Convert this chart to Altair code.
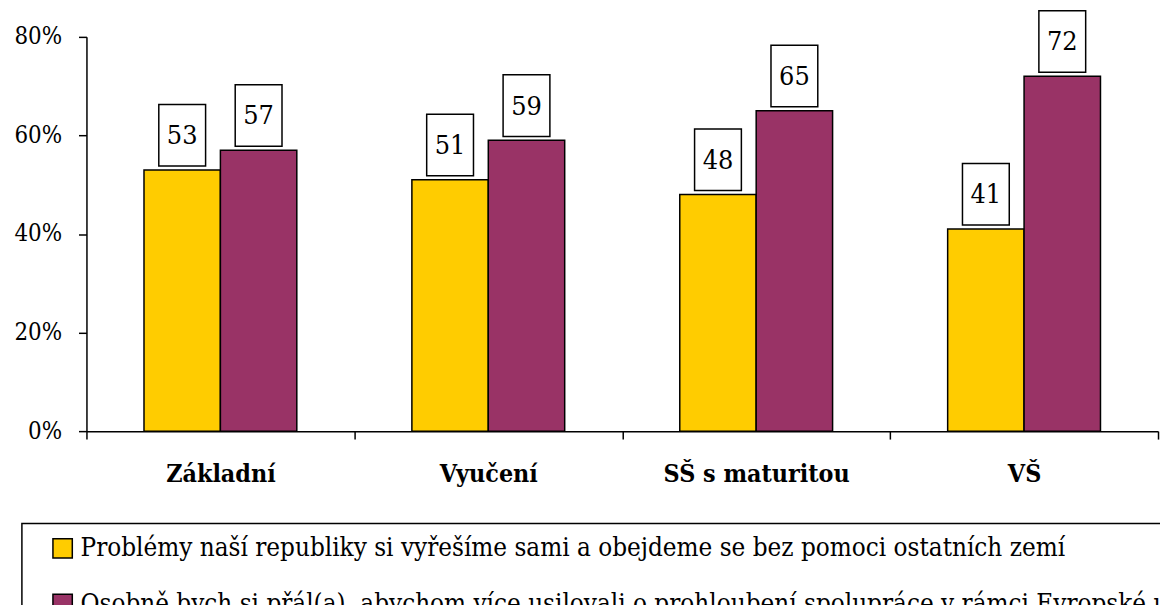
import altair as alt
import pandas as pd

categories = ["Základní", "Vyučení", "SŠ s maturitou", "VŠ"]
series = [
    "Problémy naší republiky si vyřešíme sami a obejdeme se bez pomoci ostatních zemí",
    "Osobně bych si přál(a), abychom více usilovali o prohloubení spolupráce v rámci Evropské unie",
]
values_sami = [53, 51, 48, 41]
values_eu = [57, 59, 65, 72]
colors = ["#FFCC00", "#993366"]
y_ticks = [0, 20, 40, 60, 80]

rows = []
for c, a, b in zip(categories, values_sami, values_eu):
    rows.append({"kat": c, "serie": series[0], "hodnota": a})
    rows.append({"kat": c, "serie": series[1], "hodnota": b})
df = pd.DataFrame(rows)

FONT = "'DejaVu Serif Condensed', 'DejaVu Serif'"

x = alt.X(
    "kat:N", sort=categories,
    scale=alt.Scale(paddingInner=0, paddingOuter=0),
    axis=alt.Axis(title=None, tickBand="extent", labelAngle=0, labelFont=FONT,
                  labelFontSize=25, labelFontWeight="bold", labelColor="black",
                  labelLimit=400, labelPadding=23, tickSize=8, tickColor="black",
                  tickWidth=1.5, domainColor="black", domainWidth=1.5, grid=False),
)
xo = alt.XOffset("serie:N", sort=series, scale=alt.Scale(paddingInner=0, paddingOuter=0.753))
y = alt.Y(
    "hodnota:Q",
    scale=alt.Scale(domain=[0, 80], nice=False),
    axis=alt.Axis(title=None, values=y_ticks, labelExpr="datum.value + '%'", labelFont=FONT,
                  labelFontSize=24, labelColor="black", labelPadding=17, tickSize=8,
                  tickColor="black", tickWidth=1.5, domainColor="black", domainWidth=1.5,
                  grid=False),
)
color = alt.Color(
    "serie:N", sort=series,
    scale=alt.Scale(domain=series, range=colors),
    legend=alt.Legend(title=None, orient="none", legendX=-65, legendY=490, direction="vertical",
                      strokeColor="black", fillColor="white", padding=12,
                      symbolType="square", symbolSize=380, symbolStrokeColor="black",
                      symbolStrokeWidth=1.5, symbolOpacity=1, symbolOffset=16,
                      labelFont=FONT, labelFontSize=26, labelColor="black", labelOffset=5,
                      labelLimit=3000, rowPadding=30),
)

base = alt.Chart(df).encode(x=x, xOffset=xo)
bars = base.mark_bar(stroke="black", strokeWidth=1.5, opacity=1).encode(y=y, color=color)
boxes = base.mark_point(
    shape="M-0.76,-1L0.76,-1L0.76,1L-0.76,1Z", size=3844, filled=True, fill="white",
    stroke="black", strokeWidth=1.5, opacity=1, yOffset=-35,
).encode(y="hodnota:Q")
labels = base.mark_text(font=FONT, fontSize=27, baseline="middle", yOffset=-34,
                        color="black").encode(y="hodnota:Q", text="hodnota:Q")

chart = alt.layer(bars, boxes, labels).properties(
    width=1079, height=397,
    autosize=alt.AutoSizeParams(type="none"),
    padding={"left": 79, "top": 27, "right": 2, "bottom": 173},
).configure_view(stroke=None).configure_legend(strokeWidth=1.5)

chart.save("out.html", embed_options={"renderer": "svg", "actions": False})
